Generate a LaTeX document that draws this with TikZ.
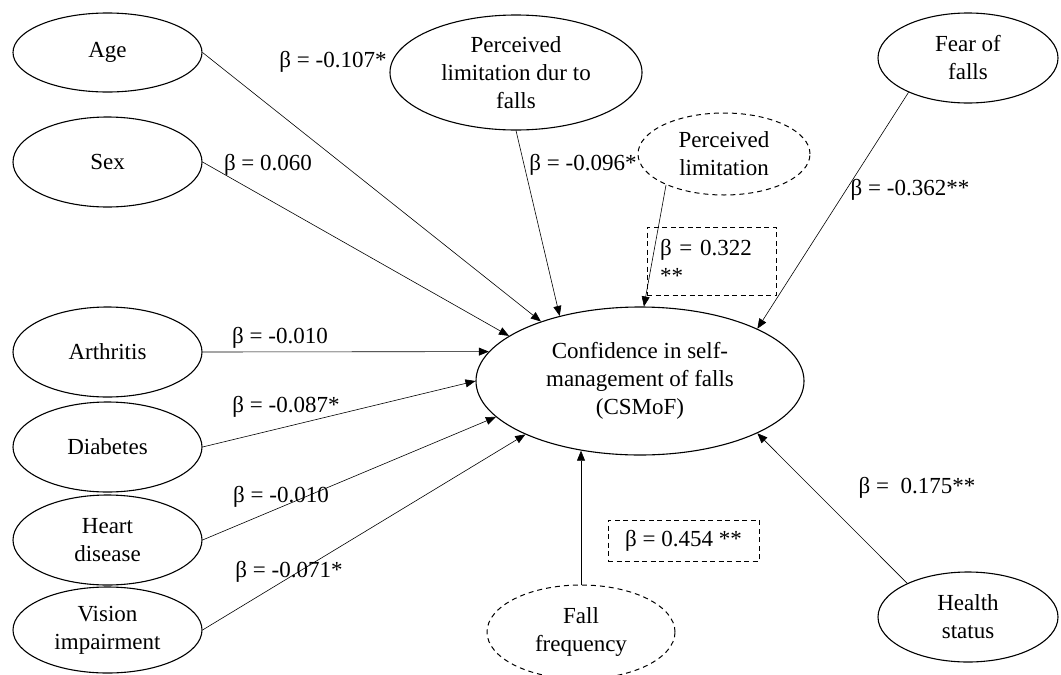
\documentclass[tikz,border=0pt]{standalone}
\usepackage{fontspec}
\setmainfont{Liberation Serif}
\usetikzlibrary{shapes.geometric,arrows.meta}
\begin{document}
\begin{tikzpicture}[x=1pt,y=-1pt,
  txt/.style={font=\fontsize{23}{28}\selectfont},
  var/.style={ellipse,draw,line width=1.1pt,inner sep=0pt,align=center,txt},
  lat/.style={var,dash pattern=on 5pt off 4pt,line width=1pt},
  lbl/.style={txt,inner sep=0pt},
  arr/.style={line width=0.6pt,-{Triangle[length=10pt,width=8pt]}},
  box/.style={draw,dash pattern=on 5pt off 3.5pt,line width=1pt,txt}]
\useasboundingbox (0,0) rectangle (1061,675);
% predictors
\node[var,minimum width=189pt,minimum height=79pt] (age) at (107.5,52.5) {Age};
\node[var,minimum width=189pt,minimum height=90pt] (sex) at (107.5,162) {Sex};
\node[var,minimum width=189pt,minimum height=90pt] (arth) at (107.5,352) {Arthritis};
\node[var,minimum width=189pt,minimum height=90pt] (diab) at (107.5,447) {Diabetes};
\node[var,minimum width=189pt,minimum height=90pt] (heart) at (107.5,540) {Heart\\disease};
\node[var,minimum width=189pt,minimum height=86pt] (vis) at (107.5,630) {Vision\\impairment};
\node[var,minimum width=252pt,minimum height=115pt] (pldf) at (516,72.5) {Perceived\\limitation dur to\\falls};
\node[lat,minimum width=172pt,minimum height=82pt] (pl) at (724,154) {Perceived\\limitation};
\node[var,minimum width=180pt,minimum height=90pt] (fear) at (968,58) {Fear of\\falls};
\node[var,minimum width=328pt,minimum height=148pt] (csm) at (640,381) {Confidence in self-\\management of falls\\(CSMoF)};
\node[lat,minimum width=188pt,minimum height=94pt] (ff) at (581,632) {Fall\\frequency};
\node[var,minimum width=180pt,minimum height=90pt] (hs) at (968,617) {Health\\status};
% paths
\draw[arr] (age.east) -- (csm.149.8);
\draw[arr] (sex.east) -- (csm.161.6);
\draw[arr] (arth.east) -- (csm.169.6);
\draw[arr] (diab.east) -- (csm.180.3);
\draw[arr] (heart.east) -- (csm.194.3);
\draw[arr] (vis.east) -- (csm.205.8);
\draw[arr] (pldf.south) -- (csm.141.2);
\draw[arr] (pl.208) -- (csm.87.7);
\draw[arr] (fear.210) -- (csm.24.2);
\draw[arr] (hs.151) -- (csm.336.1);
\draw[arr] (ff.north) -- (ff.north |- csm.230);
% labels
\node[lbl] (lage) at (333,62) {β = -0.107*};
\node[lbl] (lsex) at (268,165) {β = 0.060};
\node[lbl] (larth) at (280,338) {β = -0.010};
\node[lbl] (ldiab) at (286,407) {β = -0.087*};
\node[lbl] (lheart) at (281,497) {β = -0.010};
\node[lbl] (lvis) at (289,572) {β = -0.071*};
\node[lbl] (lpldf) at (583,165) {β = -0.096*};
\node[lbl] (lfear) at (910,190) {β = -0.362**};
\node[lbl] (lhs) at (917,488) {β = \ 0.175**};
\node[box,text width=103pt,align=left,inner xsep=13pt,inner ysep=0pt,minimum height=68pt] (bpl) at (711.5,261) {β = 0.322\\{}**};
\node[box,minimum width=151pt,minimum height=41pt,inner sep=0pt] (bff) at (683.5,540.5) {β = 0.454 **};
\end{tikzpicture}
\end{document}
